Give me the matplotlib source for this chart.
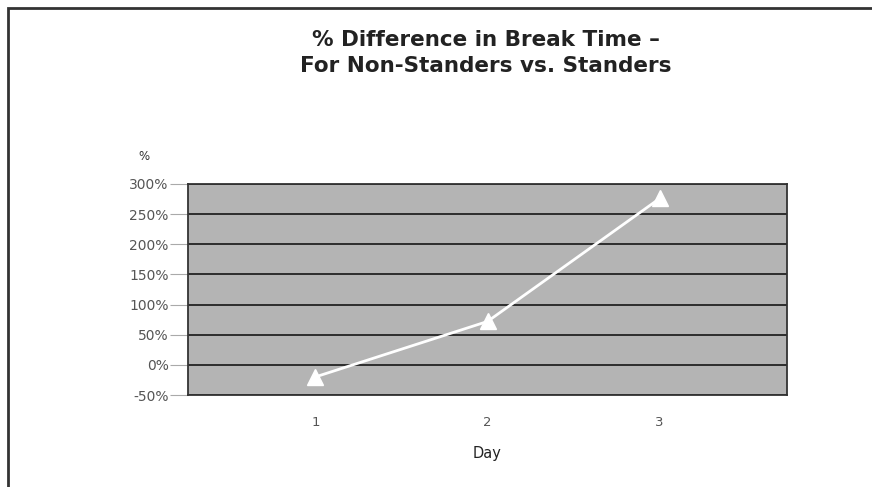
import matplotlib.pyplot as plt
from matplotlib.patches import Rectangle
from matplotlib.ticker import FuncFormatter

# Dados
dias = [1, 2, 3]
diferenca = [-20, 72, 276]
y_ticks = [-50, 0, 50, 100, 150, 200, 250, 300]

plt.rcParams['font.family'] = ['DejaVu Sans']

fig = plt.figure(figsize=(8.72, 4.87), dpi=100)

# moldura (bordas esquerda e superior)
fig.patches.append(Rectangle((0.0095, -0.01), 1.1, 0.9935, transform=fig.transFigure,
                             fill=False, edgecolor='#333333', linewidth=2))

ax = fig.add_axes([0.2156, 0.1889, 0.687, 0.4333])
ax.set_facecolor('#b4b4b4')
ax.plot(dias, diferenca, color='white', linewidth=2, marker='^', markersize=11,
        markerfacecolor='white', markeredgecolor='white')

ax.set_xlim(0.26, 3.74)
ax.set_ylim(-50, 300)
ax.set_xticks(dias)
ax.set_yticks(y_ticks)
ax.yaxis.set_major_formatter(FuncFormatter(lambda v, p: f'{v:.0f}%'))
ax.grid(axis='y', color='#222222', linewidth=1.3)
ax.set_axisbelow(True)
for s in ax.spines.values():
    s.set_color('#333333')
    s.set_linewidth(1.3)
ax.tick_params(axis='y', labelsize=10, length=13, width=0.8, color='#aaaaaa',
               labelcolor='#555555', pad=1)
ax.tick_params(axis='x', labelsize=9.5, length=0, labelcolor='#555555', pad=15)

ax.set_xlabel('Day', fontsize=10.5, color='#222222', labelpad=12)
fig.text(0.165, 0.678, '%', fontsize=8.5, color='#333333', ha='center', va='center')

# titulo
fig.text(0.557, 0.917, '% Difference in Break Time \u2013', fontsize=15.5, fontweight='bold',
         ha='center', va='center', color='#222222')
fig.text(0.557, 0.864, 'For Non-Standers vs. Standers', fontsize=15.5, fontweight='bold',
         ha='center', va='center', color='#222222')

fig.savefig('out.png', dpi=100)
